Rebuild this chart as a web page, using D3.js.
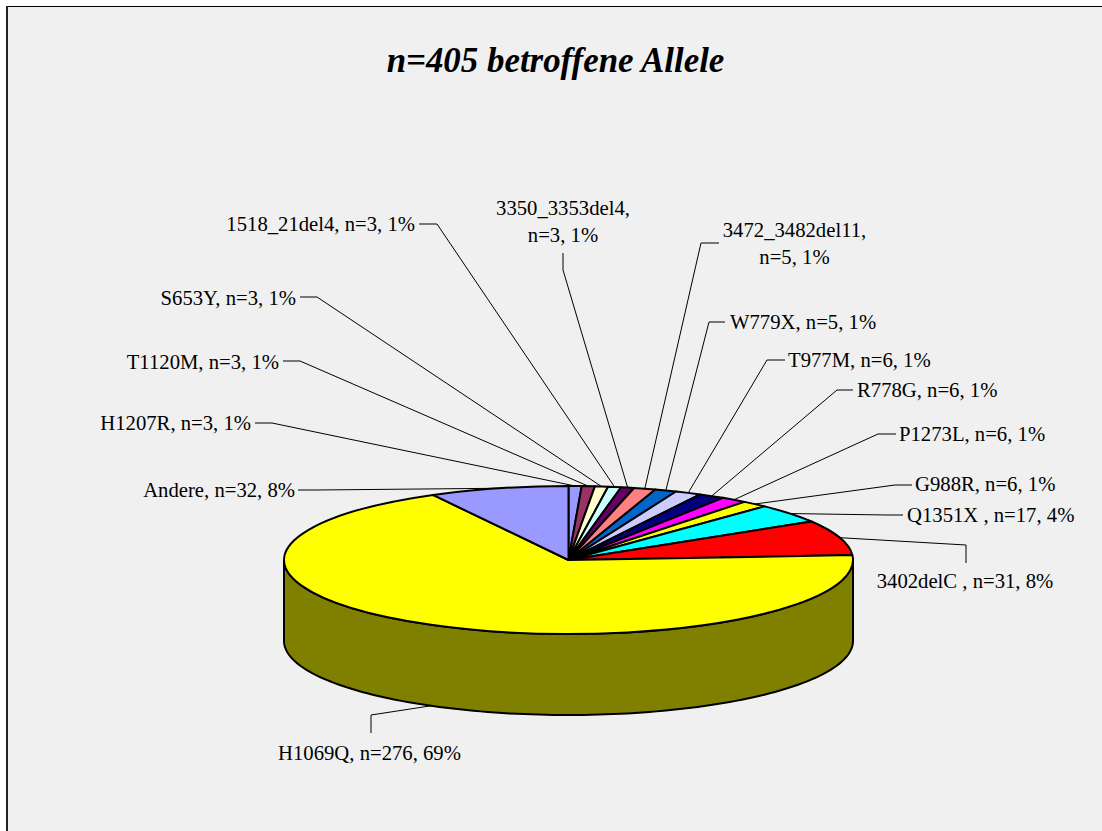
<!DOCTYPE html>
<html><head><meta charset="utf-8">
<script src="https://cdn.jsdelivr.net/npm/d3@7/dist/d3.min.js"></script>
<style>html,body{margin:0;padding:0;background:#fff}svg{display:block}text{font-family:"Liberation Serif","Times New Roman",serif;fill:#000}</style>
</head><body><script>
const categories=["H1207R","T1120M","S653Y","1518_21del4","3350_3353del4","3472_3482del11","W779X","T977M","R778G","P1273L","G988R","Q1351X ","3402delC ","H1069Q","Andere"];
const counts=[3,3,3,3,3,5,5,6,6,6,6,17,31,276,32];
const percents=[1,1,1,1,1,1,1,1,1,1,1,4,8,69,8];
const sliceColors=["#9999FF","#993366","#FFFFCC","#CCFFFF","#660066","#FF8080","#0066CC","#CCCCFF","#000080","#FF00FF","#FFFF00","#00FFFF","#FF0000","#FFFF00","#9999FF"];
const wallColor="#808000";
const chartTitle="n=405 betroffene Allele";
const W=1102,H=831,cx=568.5,cy=560,rx=284.5,ry=74,depth=81;
// label layout: line break after the name or not, text anchor, leader elbow points
const labelLayout=[
 {br:false,x:251,y:429.5,a:"end",elbow:[[255,423],[272,423]]},
 {br:false,x:279,y:368.5,a:"end",elbow:[[283,361],[300,361]]},
 {br:false,x:296,y:304.5,a:"end",elbow:[[300,297],[317,297]]},
 {br:false,x:415,y:231,a:"end",elbow:[[419,224],[437,224]]},
 {br:true,x:563,y:215,a:"middle",elbow:[[563,253],[563,270]]},
 {br:true,x:794.5,y:237,a:"middle",elbow:[[719,243],[701,243]]},
 {br:false,x:730,y:329,a:"start",elbow:[[725,322],[709,322]]},
 {br:false,x:788,y:367,a:"start",elbow:[[785,360],[767,360]]},
 {br:false,x:857,y:397,a:"start",elbow:[[853,390],[837,390]]},
 {br:false,x:899,y:441,a:"start",elbow:[[896,434],[878,434]]},
 {br:false,x:915,y:491,a:"start",elbow:[[912,485],[895,485]]},
 {br:false,x:907,y:522,a:"start",elbow:[[903,515],[887,515]]},
 {br:false,x:965,y:588,a:"middle",elbow:[[966,563],[966,545]]},
 {br:false,x:369.5,y:759.5,a:"middle",elbow:[[371,733],[371,715]]},
 {br:false,x:295,y:497,a:"end",elbow:[[298,490],[316,490]]}
];
const svg=d3.select("body").append("svg").attr("width",W).attr("height",H);
svg.append("rect").attr("x",6).attr("y",6).attr("width",W).attr("height",H).attr("fill","#F0F0F0");
svg.append("line").attr("x1",6).attr("x2",W).attr("y1",6.5).attr("y2",6.5).attr("stroke","#000");
svg.append("line").attr("x1",7).attr("x2",7).attr("y1",6).attr("y2",H).attr("stroke","#222").attr("stroke-width",2);
svg.append("text").attr("x",555.5).attr("y",72).attr("text-anchor","middle").attr("font-size",34.9).attr("font-weight","bold").attr("font-style","italic").text(chartTitle);
const arcs=d3.pie().sort(null).value(d=>d)(counts);
const px=t=>cx+rx*Math.sin(t),py=t=>cy-ry*Math.cos(t);
// wall of the front rim, traced along the outline of the slices that face the viewer
const lo=Math.PI/2,hi=3*Math.PI/2;
const wall=d3.area().x(t=>px(t)).y0(t=>py(t)).y1(t=>py(t)+depth);
arcs.forEach((a,i)=>{
  const s=Math.max(a.startAngle,lo),e=Math.min(a.endAngle,hi);
  if(e<=s)return;
  svg.append("path").attr("d",wall(d3.range(0,121).map(k=>s+(e-s)*k/120))).attr("fill",wallColor).attr("stroke","#000").attr("stroke-width",2);
});
const arcGen=d3.arc().innerRadius(0).outerRadius(rx);
svg.append("g").attr("transform",`translate(${cx},${cy}) scale(1,${ry/rx})`)
  .selectAll("path").data(arcs).join("path").attr("d",arcGen)
  .attr("fill",(d,i)=>sliceColors[i]).attr("stroke","#000").attr("stroke-width",2).attr("stroke-linejoin","round").attr("vector-effect","non-scaling-stroke");
// leader lines run from the label elbow to the middle of each slice rim
const lineGen=d3.line();
arcs.forEach((a,i)=>{
  const L=labelLayout[i],m=(a.startAngle+a.endAngle)/2;
  const end=[px(m),py(m)+(Math.cos(m)<0?depth:0)];
  svg.append("path").attr("d",lineGen([...L.elbow,end])).attr("fill","none").attr("stroke","#000").attr("stroke-width",1);
  const name=categories[i]+",",rest=`n=${counts[i]}, ${percents[i]}%`;
  const lines=L.br?[name,rest]:[name+" "+rest];
  const t=svg.append("text").attr("text-anchor",L.a).attr("font-size",20.7);
  lines.forEach((s,k)=>t.append("tspan").attr("x",L.x).attr("y",L.y+k*27).text(s));
});
</script></body></html>
